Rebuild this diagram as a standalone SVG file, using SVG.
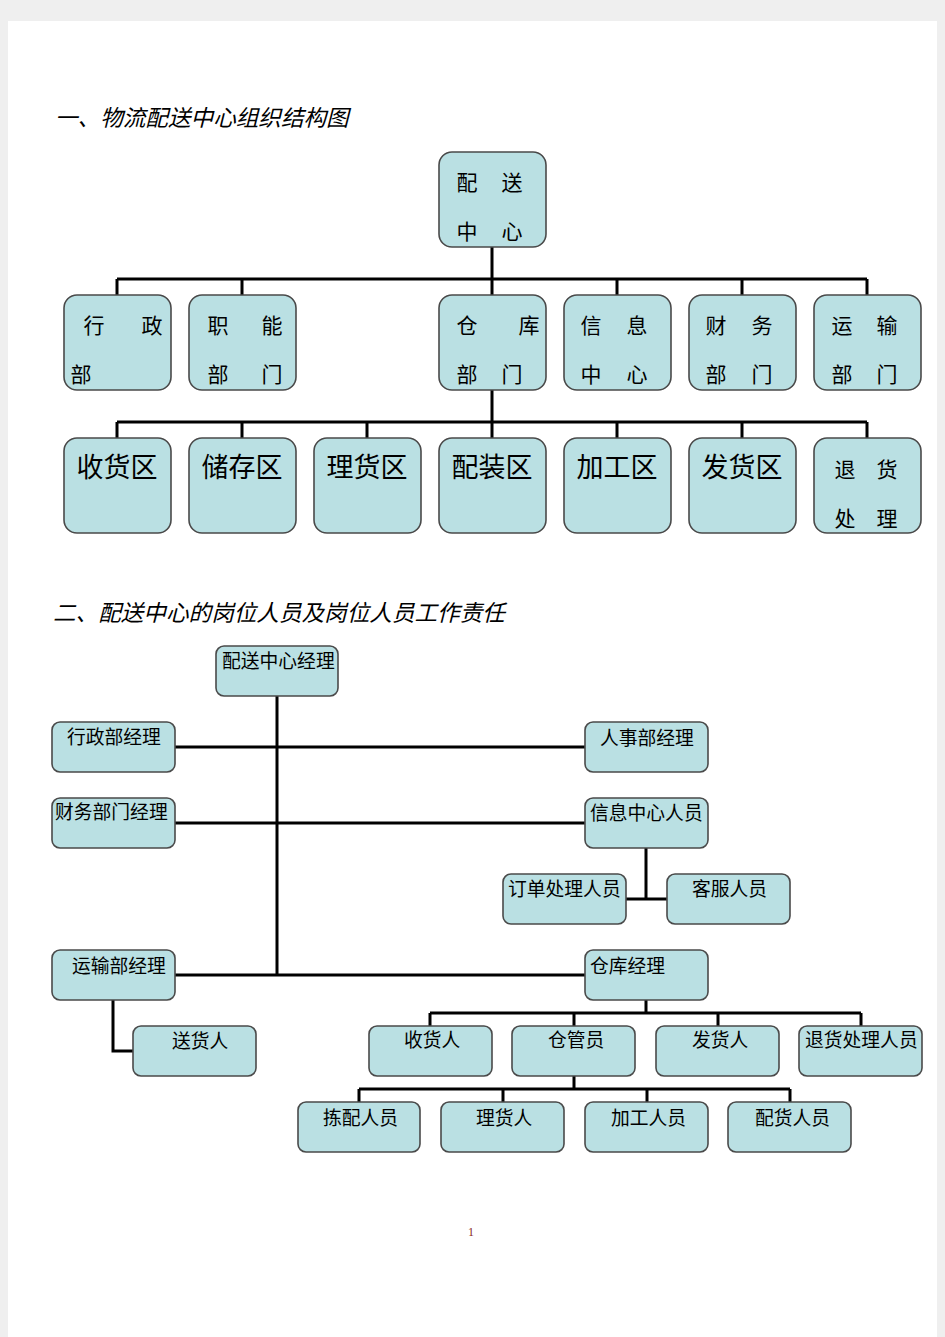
<svg xmlns="http://www.w3.org/2000/svg" width="945" height="1337" viewBox="0 0 945 1337">
<style>
.bx{fill:#bae0e3;stroke:#4a4a4a;stroke-width:1.6}
.ln{stroke:#000;stroke-width:3;fill:none}
.t{font-family:"Noto Sans CJK SC","Liberation Serif",serif;fill:#000}
.c{text-anchor:middle}
.f21{font-size:21px}
.f27{font-size:27px}
.f18{font-size:18.8px}
.ti{font-size:22.6px;font-style:italic}
</style>
<rect width="945" height="1337" fill="#efefef"/>
<rect x="8" y="21" width="929" height="1316" fill="#fff"/>
<text class="t ti" x="55" y="126">一、物流配送中心组织结构图</text>
<text class="t ti" x="53" y="621">二、配送中心的岗位人员及岗位人员工作责任</text>
<g id="connectors">
<path class="ln" d="M492 247V279M117 279H867M117 279V295M242 279V295M492 279V295M617 279V295M742 279V295M867 279V295"/>
<path class="ln" d="M492 390V422M117 422H867M117 422V438M242 422V438M367 422V438M492 422V438M617 422V438M742 422V438M867 422V438"/>
<path class="ln" d="M277 696V975M175 747H585M175 823H585M175 975H585"/>
<path class="ln" d="M646 848V899M626 899H667"/>
<path class="ln" d="M113 1000V1051H133"/>
<path class="ln" d="M646 1000V1013M430 1013H861M430 1013V1026M574 1013V1026M718 1013V1026M861 1013V1026"/>
<path class="ln" d="M574 1076V1089M359 1089H790M359 1089V1102M503 1089V1102M647 1089V1102M790 1089V1102"/>
</g>
<g id="n-center"><rect class="bx" x="439" y="152" width="107" height="95" rx="13"/><text class="t f21 c" x="467" y="190">配</text><text class="t f21 c" x="512" y="190">送</text><text class="t f21 c" x="467" y="239">中</text><text class="t f21 c" x="512" y="239">心</text></g>
<g id="n-xingzheng"><rect class="bx" x="64" y="295" width="107" height="95" rx="13"/><text class="t f21 c" x="94" y="333">行</text><text class="t f21 c" x="152" y="333">政</text><text class="t f21 c" x="81" y="382">部</text></g>
<g id="n-zhineng"><rect class="bx" x="189" y="295" width="107" height="95" rx="13"/><text class="t f21 c" x="218" y="333">职</text><text class="t f21 c" x="272" y="333">能</text><text class="t f21 c" x="218" y="382">部</text><text class="t f21 c" x="272" y="382">门</text></g>
<g id="n-cangku"><rect class="bx" x="439" y="295" width="107" height="95" rx="13"/><text class="t f21 c" x="467" y="333">仓</text><text class="t f21 c" x="529" y="333">库</text><text class="t f21 c" x="467" y="382">部</text><text class="t f21 c" x="512" y="382">门</text></g>
<g id="n-xinxi"><rect class="bx" x="564" y="295" width="107" height="95" rx="13"/><text class="t f21 c" x="591" y="333">信</text><text class="t f21 c" x="637" y="333">息</text><text class="t f21 c" x="591" y="382">中</text><text class="t f21 c" x="637" y="382">心</text></g>
<g id="n-caiwu"><rect class="bx" x="689" y="295" width="107" height="95" rx="13"/><text class="t f21 c" x="716" y="333">财</text><text class="t f21 c" x="762" y="333">务</text><text class="t f21 c" x="716" y="382">部</text><text class="t f21 c" x="762" y="382">门</text></g>
<g id="n-yunshu"><rect class="bx" x="814" y="295" width="107" height="95" rx="13"/><text class="t f21 c" x="842" y="333">运</text><text class="t f21 c" x="887" y="333">输</text><text class="t f21 c" x="842" y="382">部</text><text class="t f21 c" x="887" y="382">门</text></g>
<g id="n-shouhuoqu"><rect class="bx" x="64" y="438" width="107" height="95" rx="13"/><text class="t f27 c" x="117" y="477">收货区</text></g>
<g id="n-chucunqu"><rect class="bx" x="189" y="438" width="107" height="95" rx="13"/><text class="t f27 c" x="242" y="477">储存区</text></g>
<g id="n-lihuoqu"><rect class="bx" x="314" y="438" width="107" height="95" rx="13"/><text class="t f27 c" x="367" y="477">理货区</text></g>
<g id="n-peizhuangqu"><rect class="bx" x="439" y="438" width="107" height="95" rx="13"/><text class="t f27 c" x="492" y="477">配装区</text></g>
<g id="n-jiagongqu"><rect class="bx" x="564" y="438" width="107" height="95" rx="13"/><text class="t f27 c" x="617" y="477">加工区</text></g>
<g id="n-fahuoqu"><rect class="bx" x="689" y="438" width="107" height="95" rx="13"/><text class="t f27 c" x="742" y="477">发货区</text></g>
<g id="n-tuihuo"><rect class="bx" x="814" y="438" width="107" height="95" rx="13"/><text class="t f21 c" x="845" y="477">退</text><text class="t f21 c" x="887" y="477">货</text><text class="t f21 c" x="845" y="526">处</text><text class="t f21 c" x="887" y="526">理</text></g>
<g id="m-center"><rect class="bx" x="216" y="646" width="122" height="50" rx="8"/><text class="t f18" x="222" y="668">配送中心经理</text></g>
<g id="m-xingzheng"><rect class="bx" x="52" y="722" width="123" height="50" rx="8"/><text class="t f18" x="67" y="744">行政部经理</text></g>
<g id="m-caiwu"><rect class="bx" x="52" y="798" width="123" height="50" rx="8"/><text class="t f18" x="55" y="819">财务部门经理</text></g>
<g id="m-renshi"><rect class="bx" x="585" y="722" width="123" height="50" rx="8"/><text class="t f18" x="600" y="745">人事部经理</text></g>
<g id="m-xinxi"><rect class="bx" x="585" y="798" width="123" height="50" rx="8"/><text class="t f18" x="590" y="820">信息中心人员</text></g>
<g id="m-dingdan"><rect class="bx" x="503" y="874" width="123" height="50" rx="8"/><text class="t f18" x="508" y="896">订单处理人员</text></g>
<g id="m-kefu"><rect class="bx" x="667" y="874" width="123" height="50" rx="8"/><text class="t f18" x="692" y="896">客服人员</text></g>
<g id="m-yunshu"><rect class="bx" x="52" y="950" width="123" height="50" rx="8"/><text class="t f18" x="72" y="973">运输部经理</text></g>
<g id="m-songhuo"><rect class="bx" x="133" y="1026" width="123" height="50" rx="8"/><text class="t f18" x="172" y="1048">送货人</text></g>
<g id="m-cangku"><rect class="bx" x="585" y="950" width="123" height="50" rx="8"/><text class="t f18" x="590" y="973">仓库经理</text></g>
<g id="m-shouhuo"><rect class="bx" x="369" y="1026" width="123" height="50" rx="8"/><text class="t f18" x="404" y="1047">收货人</text></g>
<g id="m-cangguan"><rect class="bx" x="512" y="1026" width="123" height="50" rx="8"/><text class="t f18" x="548" y="1047">仓管员</text></g>
<g id="m-fahuo"><rect class="bx" x="656" y="1026" width="123" height="50" rx="8"/><text class="t f18" x="692" y="1047">发货人</text></g>
<g id="m-tuihuo"><rect class="bx" x="799" y="1026" width="123" height="50" rx="8"/><text class="t f18" x="805" y="1047">退货处理人员</text></g>
<g id="m-jianpei"><rect class="bx" x="298" y="1102" width="122" height="50" rx="8"/><text class="t f18" x="323" y="1125">拣配人员</text></g>
<g id="m-lihuo"><rect class="bx" x="441" y="1102" width="123" height="50" rx="8"/><text class="t f18" x="476" y="1125">理货人</text></g>
<g id="m-jiagong"><rect class="bx" x="585" y="1102" width="123" height="50" rx="8"/><text class="t f18" x="611" y="1125">加工人员</text></g>
<g id="m-peihuo"><rect class="bx" x="728" y="1102" width="123" height="50" rx="8"/><text class="t f18" x="755" y="1125">配货人员</text></g>
<text x="471" y="1236" font-family="Liberation Serif, serif" font-size="12" fill="#8b2a1a" text-anchor="middle">1</text>
</svg>
